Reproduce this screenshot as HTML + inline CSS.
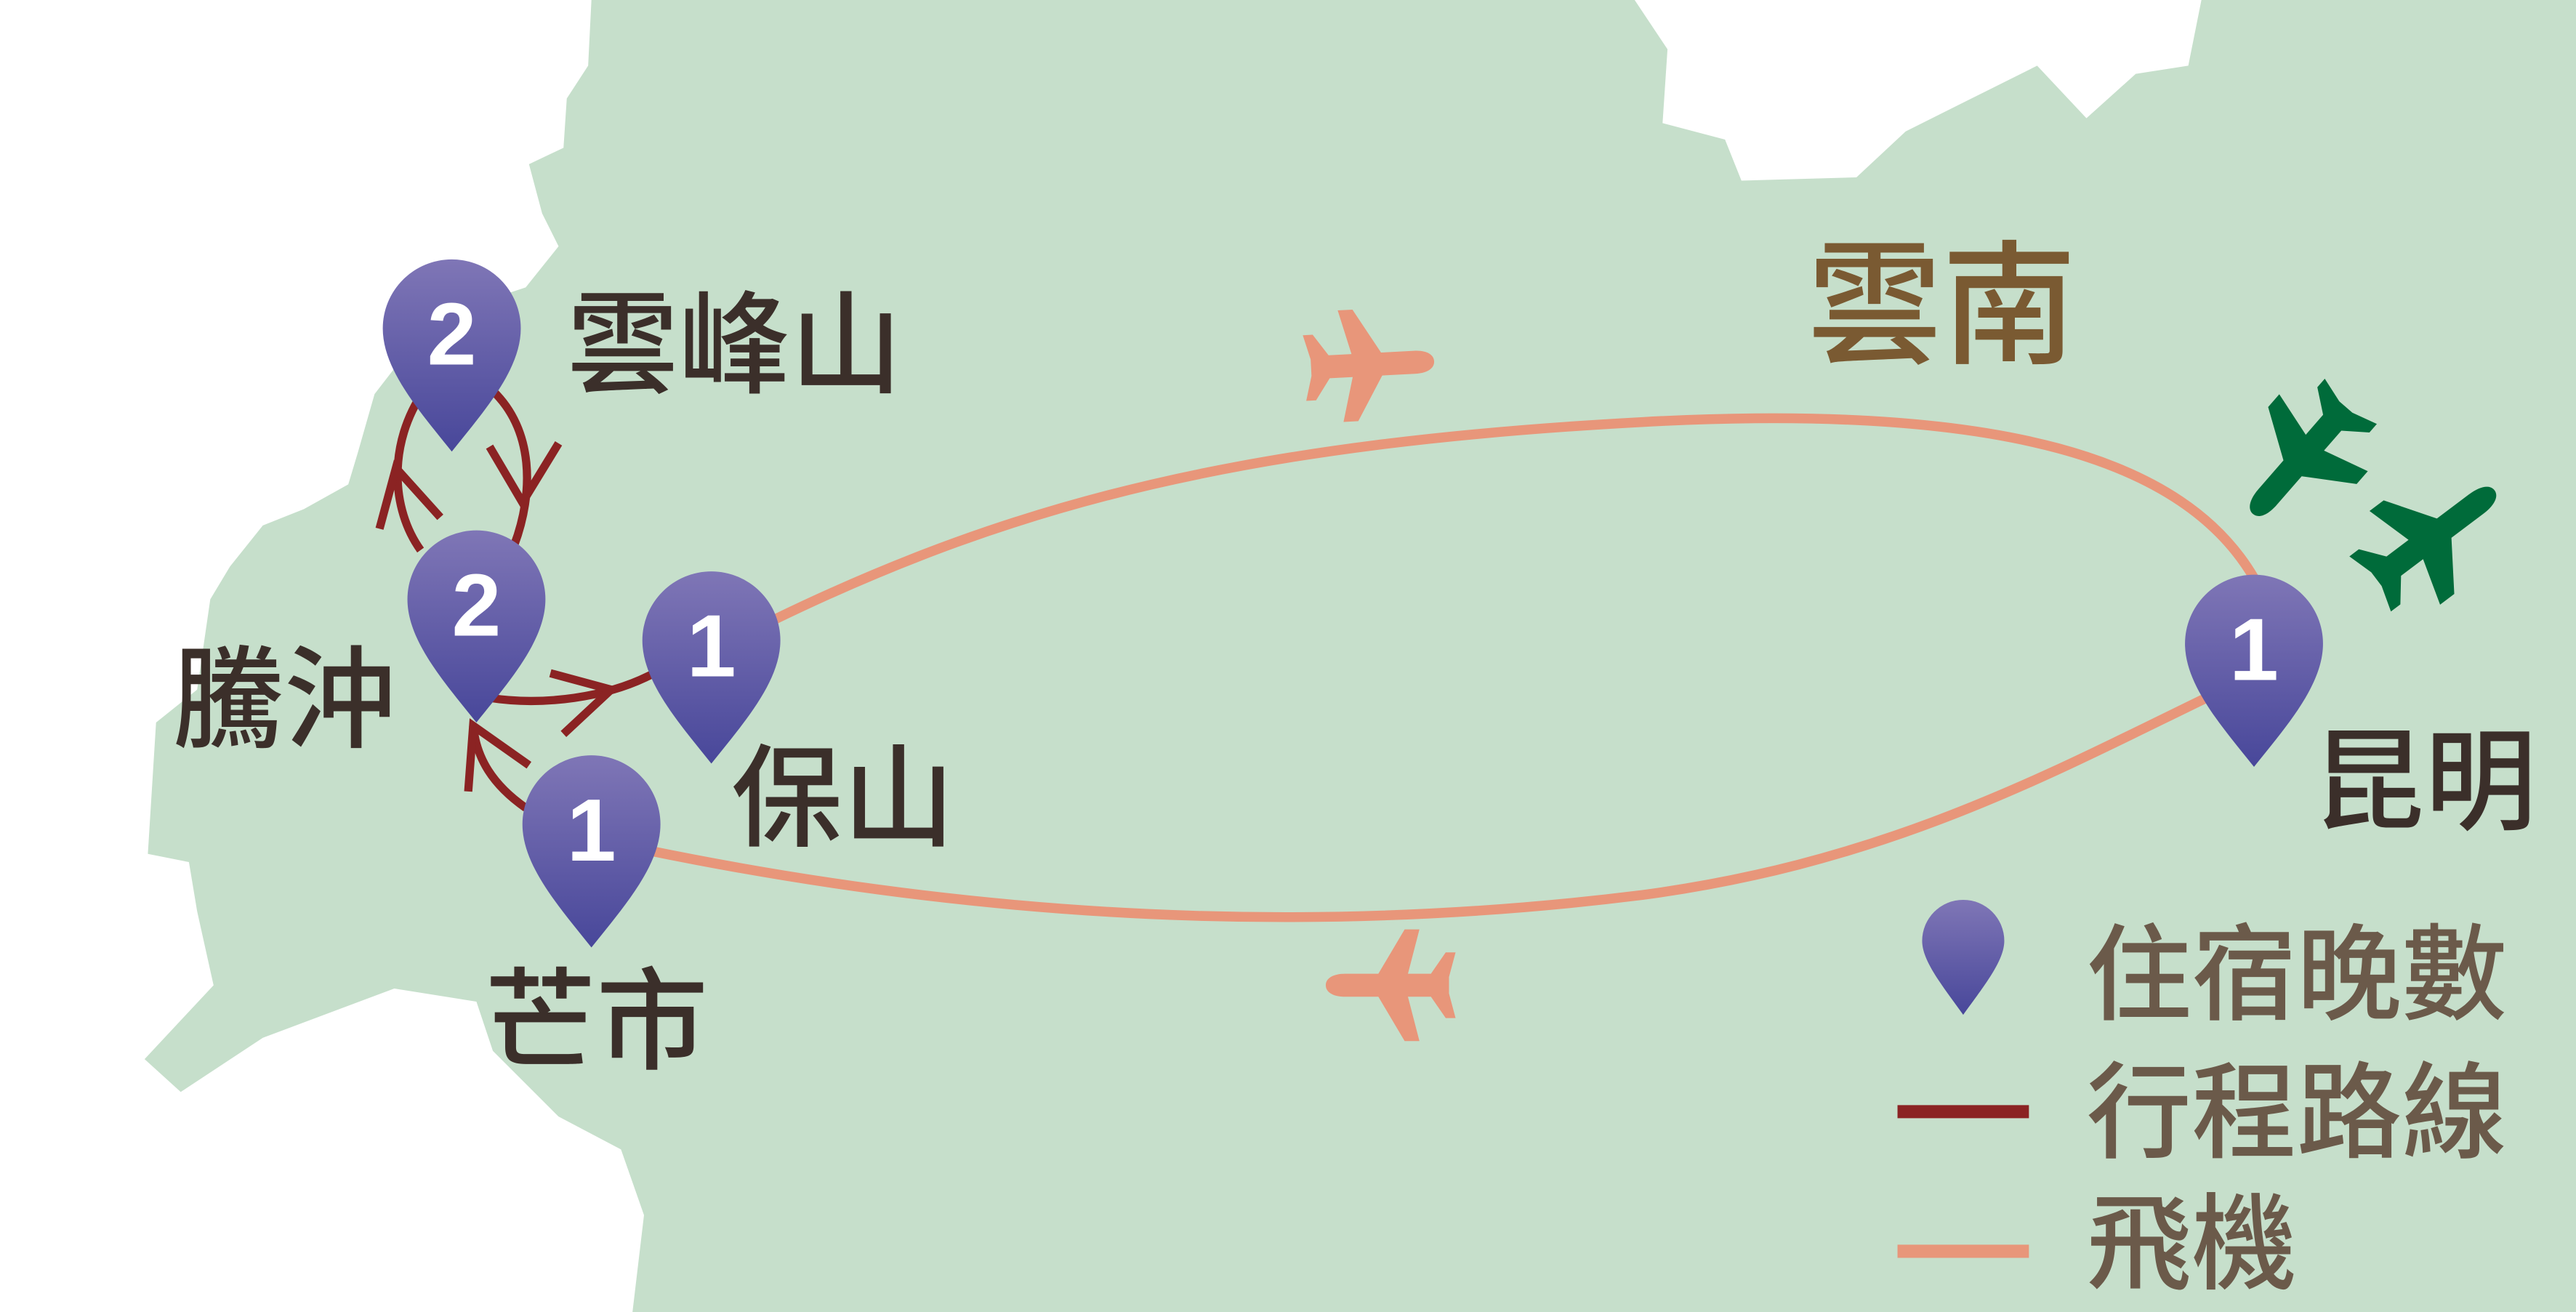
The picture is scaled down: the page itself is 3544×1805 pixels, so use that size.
<!DOCTYPE html>
<html><head><meta charset="utf-8"><style>
html,body{margin:0;padding:0;background:#fff;}
svg{display:block;}
text{font-family:"Liberation Sans","Noto Sans CJK TC",sans-serif;}
</style></head><body>
<svg width="3544" height="1805" viewBox="0 0 1568 799" preserveAspectRatio="none" xmlns="http://www.w3.org/2000/svg">
<defs>
<linearGradient id="pg" x1="0" y1="0" x2="0" y2="1">
<stop offset="0" stop-color="#7f76b6"/><stop offset="1" stop-color="#48479a"/>
</linearGradient>
<g id="pin"><path d="M0,75 C-20,50 -42,25 -42,0 A42,42 0 1 1 42,0 C42,25 20,50 0,75 Z" fill="url(#pg)"/></g>
<path id="plane" d="M38,0 C38,-4 34,-7 26,-7 L6,-7 L-10,-34 L-19,-34 L-12,-7 L-26,-7 L-35,-20 L-41,-20 L-37,-5 L-37,5 L-41,20 L-35,20 L-26,7 L-12,7 L-19,34 L-10,34 L6,7 L26,7 C34,7 38,4 38,0 Z"/>
</defs>
<rect width="1568" height="799" fill="#fff"/>
<path fill="#c6dfcb" d="M360,0 L358,40 L345,60 L343,90 L322,100 L330,130 L340,150 L320,175 L305,180 L280,190 L255,205 L228,240 L218,275 L212,295 L185,310 L160,320 L140,345 L128,365 L120,420 L95,440 L90,520 L115,525 L120,555 L130,600 L88,645 L110,665 L160,632 L240,602 L290,610 L300,640 L340,680 L378,700 L392,740 L385,799 L1568,799 L1568,0 L1340,0 L1332,40 L1300,45 L1270,72 L1240,40 L1200,60 L1160,80 L1130,108 L1060,110 L1050,85 L1012,75 L1015,30 L995,0 Z"/>
<path d="M470,378 C620,305 760,270 1000,257 C1220,245 1330,280 1372,352" fill="none" stroke="#e8967a" stroke-width="6"/>
<path d="M395,518 C600,560 800,570 1000,545 C1150,525 1250,470 1345,424" fill="none" stroke="#e8967a" stroke-width="6"/>
<g fill="none" stroke="#8b2323" stroke-width="5">
<path d="M256,335 C238,310 236,270 258,238"/>
<path d="M300,238 C325,262 325,300 313,332"/>
<path d="M231,322 L241,285 L268,315"/>
<path d="M298,272 L318,306 L340,270"/>
<path d="M298,425 C330,430 370,425 398,410"/>
<path d="M335,410 L372,420 L343,447"/>
<path d="M320,492 C300,478 290,462 288,442"/>
<path d="M285,482 L288,442 L322,466"/>
</g>
<use href="#pin" x="275" y="200"/>
<use href="#pin" x="290" y="365"/>
<use href="#pin" x="433" y="390"/>
<use href="#pin" x="360" y="502"/>
<use href="#pin" x="1372" y="392"/>
<g fill="#fff" font-size="54" font-weight="bold" text-anchor="middle">
<text x="275" y="222">2</text><text x="290" y="387">2</text>
<text x="433" y="412">1</text><text x="360" y="524">1</text><text x="1372" y="414">1</text>
</g>
<use href="#plane" fill="#e8967a" transform="translate(835,222) rotate(-3)"/>
<use href="#plane" fill="#e8967a" transform="translate(845,600) rotate(180)"/>
<use href="#plane" fill="#006b3a" transform="translate(1400,280) rotate(131) scale(1.15,1.05)"/>
<use href="#plane" fill="#006b3a" transform="translate(1482,326) rotate(-37) scale(1.2,1.05)"/>
<g fill="#3b2f2a" font-weight="500">
<text x="345" y="234" font-size="68">雲峰山</text>
<text x="105" y="450" font-size="68">騰沖</text>
<text x="445" y="510" font-size="68">保山</text>
<text x="295" y="646" font-size="68">芒市</text>
<text x="1408" y="500" font-size="68">昆明</text>
</g>
<text x="1100" y="215" font-size="82" fill="#7a5a32" font-weight="500">雲南</text>
<path d="M1195,618 C1182,600 1170,585 1170,573 A25,25 0 1 1 1220,573 C1220,585 1208,600 1195,618 Z" fill="url(#pg)"/>
<line x1="1155" y1="677" x2="1235" y2="677" stroke="#8b2323" stroke-width="8"/>
<line x1="1155" y1="762" x2="1235" y2="762" stroke="#e8967a" stroke-width="8"/>
<g fill="#6b5a4a" font-size="64" font-weight="500">
<text x="1270" y="616">住宿晚數</text>
<text x="1270" y="700">行程路線</text>
<text x="1270" y="780">飛機</text>
</g>
</svg>
</body></html>
